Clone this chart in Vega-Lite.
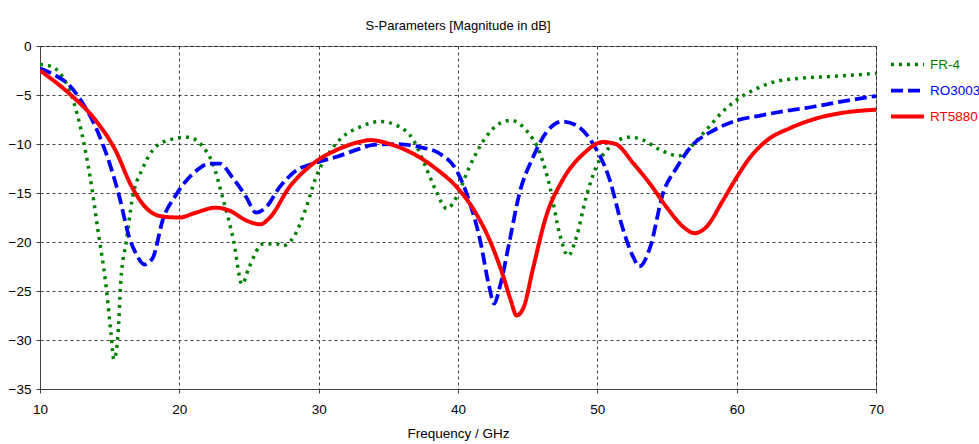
{
  "$schema": "https://vega.github.io/schema/vega-lite/v6.json",
  "width": 836,
  "height": 343,
  "autosize": "none",
  "padding": {"left": 40, "top": 46, "right": 103, "bottom": 55},
  "background": "white",
  "title": {"text": "S-Parameters [Magnitude in dB]", "anchor": "middle", "font": "Liberation Sans", "fontSize": 13, "fontWeight": "normal", "color": "#000000", "offset": 6},
  "config": {
    "view": {"stroke": "#808080", "strokeWidth": 1},
    "axis": {"labelFont": "Liberation Sans", "labelFontSize": 13.5, "labelColor": "#000000", "titleFont": "Liberation Sans", "titleFontSize": 13.5, "titleFontWeight": "normal", "titleColor": "#000000", "domainColor": "#404040", "tickColor": "#404040", "tickSize": 4, "gridColor": "#000000", "gridDash": [3, 3], "gridOpacity": 0.75, "gridWidth": 1}
  },
  "data": {"values": [
    {"f":10,"db":-1.9,"s":"FR-4"},{"f":10.6,"db":-2.0,"s":"FR-4"},{"f":11.6,"db":-3.1,"s":"FR-4"},{"f":12.3,"db":-5.2,"s":"FR-4"},{"f":13.0,"db":-8.9,"s":"FR-4"},{"f":13.6,"db":-13.4,"s":"FR-4"},{"f":14.2,"db":-19.2,"s":"FR-4"},{"f":14.7,"db":-24.0,"s":"FR-4"},{"f":15.1,"db":-29.4,"s":"FR-4"},{"f":15.3,"db":-32.0,"s":"FR-4"},{"f":15.6,"db":-29.4,"s":"FR-4"},{"f":15.8,"db":-24.0,"s":"FR-4"},{"f":16.2,"db":-19.9,"s":"FR-4"},{"f":16.6,"db":-15.8,"s":"FR-4"},{"f":17.4,"db":-12.4,"s":"FR-4"},{"f":18.3,"db":-10.3,"s":"FR-4"},{"f":19.5,"db":-9.5,"s":"FR-4"},{"f":20.6,"db":-9.3,"s":"FR-4"},{"f":21.7,"db":-10.3,"s":"FR-4"},{"f":22.4,"db":-12.0,"s":"FR-4"},{"f":23.1,"db":-15.4,"s":"FR-4"},{"f":23.9,"db":-19.9,"s":"FR-4"},{"f":24.5,"db":-24.3,"s":"FR-4"},{"f":25.0,"db":-22.6,"s":"FR-4"},{"f":26.0,"db":-20.2,"s":"FR-4"},{"f":27.0,"db":-20.2,"s":"FR-4"},{"f":27.4,"db":-20.4,"s":"FR-4"},{"f":28.2,"db":-19.5,"s":"FR-4"},{"f":29.1,"db":-16.5,"s":"FR-4"},{"f":29.8,"db":-13.4,"s":"FR-4"},{"f":30.8,"db":-10.8,"s":"FR-4"},{"f":31.7,"db":-9.3,"s":"FR-4"},{"f":32.9,"db":-8.3,"s":"FR-4"},{"f":34.4,"db":-7.7,"s":"FR-4"},{"f":35.6,"db":-8.1,"s":"FR-4"},{"f":36.8,"db":-9.6,"s":"FR-4"},{"f":37.7,"db":-12.4,"s":"FR-4"},{"f":38.4,"db":-14.7,"s":"FR-4"},{"f":39.2,"db":-16.6,"s":"FR-4"},{"f":39.9,"db":-15.4,"s":"FR-4"},{"f":40.8,"db":-12.4,"s":"FR-4"},{"f":42.0,"db":-9.3,"s":"FR-4"},{"f":43.0,"db":-7.9,"s":"FR-4"},{"f":43.8,"db":-7.6,"s":"FR-4"},{"f":44.9,"db":-8.6,"s":"FR-4"},{"f":45.9,"db":-11.0,"s":"FR-4"},{"f":46.6,"db":-14.4,"s":"FR-4"},{"f":47.3,"db":-19.2,"s":"FR-4"},{"f":47.9,"db":-21.4,"s":"FR-4"},{"f":48.5,"db":-19.5,"s":"FR-4"},{"f":49.2,"db":-15.4,"s":"FR-4"},{"f":49.9,"db":-12.4,"s":"FR-4"},{"f":50.9,"db":-10.3,"s":"FR-4"},{"f":52.3,"db":-9.3,"s":"FR-4"},{"f":53.3,"db":-9.6,"s":"FR-4"},{"f":54.5,"db":-10.6,"s":"FR-4"},{"f":55.9,"db":-11.2,"s":"FR-4"},{"f":56.9,"db":-10.0,"s":"FR-4"},{"f":57.8,"db":-8.6,"s":"FR-4"},{"f":59.0,"db":-6.7,"s":"FR-4"},{"f":60,"db":-5.5,"s":"FR-4"},{"f":61.2,"db":-4.5,"s":"FR-4"},{"f":62.6,"db":-3.7,"s":"FR-4"},{"f":64.5,"db":-3.3,"s":"FR-4"},{"f":66.9,"db":-3.1,"s":"FR-4"},{"f":70,"db":-2.8,"s":"FR-4"},
    {"f":10,"db":-2.3,"s":"RO3003"},{"f":11.1,"db":-3.0,"s":"RO3003"},{"f":12.1,"db":-4.0,"s":"RO3003"},{"f":13.0,"db":-5.7,"s":"RO3003"},{"f":14.0,"db":-8.3,"s":"RO3003"},{"f":15.0,"db":-12.0,"s":"RO3003"},{"f":15.7,"db":-15.4,"s":"RO3003"},{"f":16.4,"db":-19.5,"s":"RO3003"},{"f":16.9,"db":-21.2,"s":"RO3003"},{"f":17.5,"db":-22.3,"s":"RO3003"},{"f":18.1,"db":-21.6,"s":"RO3003"},{"f":18.8,"db":-17.8,"s":"RO3003"},{"f":19.8,"db":-15.1,"s":"RO3003"},{"f":21.0,"db":-13.0,"s":"RO3003"},{"f":22.2,"db":-12.0,"s":"RO3003"},{"f":22.9,"db":-12.0,"s":"RO3003"},{"f":23.8,"db":-13.4,"s":"RO3003"},{"f":24.8,"db":-15.4,"s":"RO3003"},{"f":25.5,"db":-17.0,"s":"RO3003"},{"f":26.2,"db":-16.5,"s":"RO3003"},{"f":27.2,"db":-14.4,"s":"RO3003"},{"f":28.4,"db":-12.7,"s":"RO3003"},{"f":29.6,"db":-12.0,"s":"RO3003"},{"f":31.3,"db":-11.3,"s":"RO3003"},{"f":32.9,"db":-10.5,"s":"RO3003"},{"f":33.9,"db":-10.1,"s":"RO3003"},{"f":35.6,"db":-10.0,"s":"RO3003"},{"f":37.2,"db":-10.3,"s":"RO3003"},{"f":38.7,"db":-11.0,"s":"RO3003"},{"f":39.9,"db":-12.7,"s":"RO3003"},{"f":40.8,"db":-15.8,"s":"RO3003"},{"f":41.6,"db":-19.9,"s":"RO3003"},{"f":42.2,"db":-24.3,"s":"RO3003"},{"f":42.6,"db":-26.3,"s":"RO3003"},{"f":43.0,"db":-24.6,"s":"RO3003"},{"f":43.7,"db":-19.9,"s":"RO3003"},{"f":44.4,"db":-15.1,"s":"RO3003"},{"f":45.4,"db":-11.3,"s":"RO3003"},{"f":46.3,"db":-8.9,"s":"RO3003"},{"f":47.5,"db":-7.7,"s":"RO3003"},{"f":48.5,"db":-8.1,"s":"RO3003"},{"f":49.7,"db":-10.0,"s":"RO3003"},{"f":50.9,"db":-13.7,"s":"RO3003"},{"f":51.8,"db":-18.5,"s":"RO3003"},{"f":52.6,"db":-21.6,"s":"RO3003"},{"f":53.0,"db":-22.5,"s":"RO3003"},{"f":53.8,"db":-20.5,"s":"RO3003"},{"f":54.7,"db":-15.1,"s":"RO3003"},{"f":55.7,"db":-12.4,"s":"RO3003"},{"f":56.9,"db":-10.0,"s":"RO3003"},{"f":58.1,"db":-8.8,"s":"RO3003"},{"f":60,"db":-7.6,"s":"RO3003"},{"f":61.7,"db":-7.1,"s":"RO3003"},{"f":63.6,"db":-6.6,"s":"RO3003"},{"f":65.5,"db":-6.2,"s":"RO3003"},{"f":67.4,"db":-5.7,"s":"RO3003"},{"f":70,"db":-5.1,"s":"RO3003"},
    {"f":10,"db":-2.5,"s":"RT5880"},{"f":12.1,"db":-4.85,"s":"RT5880"},{"f":14.0,"db":-7.6,"s":"RT5880"},{"f":15.4,"db":-10.6,"s":"RT5880"},{"f":16.6,"db":-14.4,"s":"RT5880"},{"f":17.6,"db":-16.5,"s":"RT5880"},{"f":18.8,"db":-17.4,"s":"RT5880"},{"f":20,"db":-17.5,"s":"RT5880"},{"f":21.2,"db":-17.0,"s":"RT5880"},{"f":22.6,"db":-16.5,"s":"RT5880"},{"f":23.6,"db":-16.8,"s":"RT5880"},{"f":24.8,"db":-17.8,"s":"RT5880"},{"f":25.8,"db":-18.2,"s":"RT5880"},{"f":26.5,"db":-17.5,"s":"RT5880"},{"f":27.9,"db":-14.4,"s":"RT5880"},{"f":29.6,"db":-12.0,"s":"RT5880"},{"f":31.3,"db":-10.6,"s":"RT5880"},{"f":32.9,"db":-9.8,"s":"RT5880"},{"f":33.7,"db":-9.6,"s":"RT5880"},{"f":35.1,"db":-10.0,"s":"RT5880"},{"f":36.8,"db":-11.0,"s":"RT5880"},{"f":38.4,"db":-12.5,"s":"RT5880"},{"f":40.1,"db":-14.7,"s":"RT5880"},{"f":41.3,"db":-17.1,"s":"RT5880"},{"f":42.3,"db":-19.9,"s":"RT5880"},{"f":43.2,"db":-23.3,"s":"RT5880"},{"f":43.8,"db":-26.0,"s":"RT5880"},{"f":44.2,"db":-27.5,"s":"RT5880"},{"f":44.7,"db":-26.7,"s":"RT5880"},{"f":45.4,"db":-22.6,"s":"RT5880"},{"f":46.3,"db":-17.5,"s":"RT5880"},{"f":47.5,"db":-13.7,"s":"RT5880"},{"f":49.0,"db":-11.0,"s":"RT5880"},{"f":50.4,"db":-9.8,"s":"RT5880"},{"f":51.3,"db":-10.0,"s":"RT5880"},{"f":52.6,"db":-12.0,"s":"RT5880"},{"f":53.8,"db":-14.1,"s":"RT5880"},{"f":55.0,"db":-16.5,"s":"RT5880"},{"f":56.2,"db":-18.5,"s":"RT5880"},{"f":57.0,"db":-19.1,"s":"RT5880"},{"f":57.8,"db":-18.5,"s":"RT5880"},{"f":59.0,"db":-15.8,"s":"RT5880"},{"f":60,"db":-13.4,"s":"RT5880"},{"f":61.0,"db":-11.3,"s":"RT5880"},{"f":62.2,"db":-9.6,"s":"RT5880"},{"f":63.8,"db":-8.4,"s":"RT5880"},{"f":65.7,"db":-7.4,"s":"RT5880"},{"f":67.7,"db":-6.8,"s":"RT5880"},{"f":70,"db":-6.5,"s":"RT5880"}
  ]},
  "mark": {"type": "line", "interpolate": "monotone", "strokeCap": "butt", "clip": true},
  "encoding": {
    "x": {"field": "f", "type": "quantitative", "scale": {"domain": [10, 70], "nice": false}, "axis": {"values": [10, 20, 30, 40, 50, 60, 70], "title": "Frequency / GHz", "labelFlush": false, "labelPadding": 9, "titlePadding": 11}},
    "y": {"field": "db", "type": "quantitative", "scale": {"domain": [-35, 0], "nice": false}, "axis": {"values": [0, -5, -10, -15, -20, -25, -30, -35], "title": null, "labelPadding": 5}},
    "color": {"field": "s", "type": "nominal", "scale": {"domain": ["FR-4", "RO3003", "RT5880"], "range": ["#008000", "#0000ff", "#ff0000"]},
      "legend": {"title": null, "orient": "none", "legendX": 849, "legendY": 0, "symbolType": "stroke", "symbolSize": 1089, "symbolStrokeWidth": 4, "labelFont": "Liberation Sans", "labelFontSize": 13.5, "labelOffset": 4, "rowPadding": 0,
        "labelColor": {"expr": "datum.label === 'FR-4' ? '#008000' : datum.label === 'RO3003' ? '#0000ff' : '#ff0000'"}}},
    "strokeDash": {"field": "s", "type": "nominal", "scale": {"domain": ["FR-4", "RO3003", "RT5880"], "range": [[3, 5], [12, 5], [1, 0]]}},
    "strokeWidth": {"field": "s", "type": "nominal", "scale": {"domain": ["FR-4", "RO3003", "RT5880"], "range": [3.5, 4, 4]}, "legend": null}
  }
}
